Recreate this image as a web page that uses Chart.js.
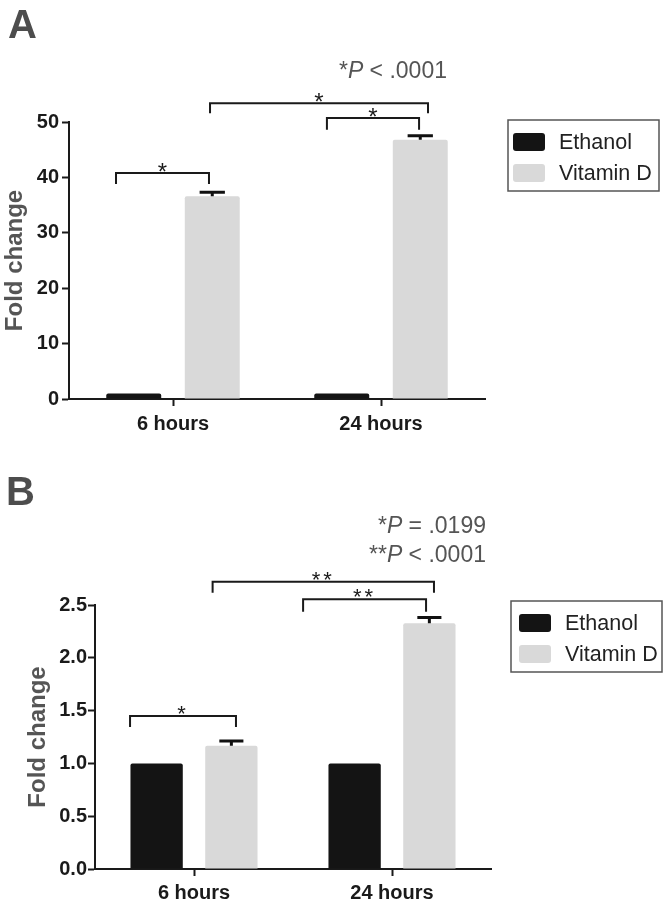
<!DOCTYPE html>
<html>
<head>
<meta charset="utf-8">
<script src="https://cdn.jsdelivr.net/npm/chart.js@4"></script>
<style>
  body { margin: 0; background: #fff; font-family: 'Liberation Sans', Arial, sans-serif; }
  #page { position: relative; width: 663px; height: 900px; overflow: hidden; }
  .letter { position: absolute; font-size: 40px; font-weight: bold; line-height: 40px; color: #4d4d4d; }
  .pval { position: absolute; font-size: 23px; line-height: 29px; color: #555; text-align: right; white-space: nowrap; }
  .pval sup { font-size: 0.8em; vertical-align: 0; }
  .box { position: absolute; left: 0; width: 663px; }
</style>
</head>
<body>
<div id="page">
  <div class="box" style="top:0;height:448px"><canvas id="chartA" width="663" height="448"></canvas></div>
  <div class="box" style="top:448px;height:452px"><canvas id="chartB" width="663" height="452"></canvas></div>
  <div class="letter" style="left:8px;top:4px">A</div>
  <div class="letter" style="left:6px;top:471px">B</div>
  <div class="pval" style="right:216px;top:56px">*<i>P</i> &lt; .0001</div>
  <div class="pval" style="right:177px;top:511px">*<i>P</i> = .0199<br>**<i>P</i> &lt; .0001</div>
</div>
<script>
// Categories and series
const categories = ['6 hours', '24 hours'];
const seriesNames = ['Ethanol', 'Vitamin D'];
const seriesColors = ['#141414', '#d9d9d9'];

// Panel A values (fold change)
const ethanolA = [1, 1];
const vitaminDA = [36.6, 46.8];
const vitaminDErrA = [0.7, 0.7];
const yTicksA = [0, 10, 20, 30, 40, 50];

// Panel B values (fold change)
const ethanolB = [1, 1];
const vitaminDB = [1.167, 2.326];
const vitaminDErrB = [0.045, 0.055];
const yTicksB = [0, 0.5, 1.0, 1.5, 2.0, 2.5];

// Significance brackets: from/to in category units, y/leg in data units
const bracketsA = [
    { from: -0.274, to: 0.173, y: 40.8, leg: 38.8, label: '*' },
    { from: 0.178, to: 1.226, y: 53.4, leg: 51.6, label: '*' },
    { from: 0.74, to: 1.183, y: 50.7, leg: 48.6, label: '*' }
];
const bracketsB = [
    { from: -0.323, to: 0.212, y: 1.449, leg: 1.345, label: '*' },
    { from: 0.094, to: 1.212, y: 2.72, leg: 2.616, label: '**' },
    { from: 0.551, to: 1.172, y: 2.554, leg: 2.437, label: '**' }
];

const FONT = "'Liberation Sans', Arial, sans-serif";
const INK = '#1a1a1a';

// Error bars (upper only) drawn on top of bars
const errorBarPlugin = {
    id: 'errorBars',
    afterDatasetsDraw(chart) {
        const ctx = chart.ctx;
        const ys = chart.scales.y;
        chart.data.datasets.forEach((ds, di) => {
            if (!ds.errors) return;
            const meta = chart.getDatasetMeta(di);
            meta.data.forEach((bar, i) => {
                const err = ds.errors[i];
                if (!err) return;
                const top = ys.getPixelForValue(ds.data[i] + err);
                const half = bar.width * 0.23;
                ctx.save();
                ctx.strokeStyle = '#111';
                ctx.lineWidth = 3;
                ctx.beginPath();
                ctx.moveTo(bar.x, bar.y);
                ctx.lineTo(bar.x, top);
                ctx.moveTo(bar.x - half, top);
                ctx.lineTo(bar.x + half, top);
                ctx.stroke();
                ctx.restore();
            });
        });
    }
};

// Brackets with stars
const bracketPlugin = {
    id: 'brackets',
    afterDraw(chart, args, opts) {
        const ctx = chart.ctx;
        const xs = chart.scales.x;
        const ys = chart.scales.y;
        (opts.items || []).forEach(b => {
            const x0 = xs.getPixelForValue(b.from);
            const x1 = xs.getPixelForValue(b.to);
            const yt = ys.getPixelForValue(b.y);
            const yl = ys.getPixelForValue(b.leg);
            ctx.save();
            ctx.strokeStyle = INK;
            ctx.lineWidth = 2;
            ctx.beginPath();
            ctx.moveTo(x0, yl);
            ctx.lineTo(x0, yt);
            ctx.lineTo(x1, yt);
            ctx.lineTo(x1, yl);
            ctx.stroke();
            const size = opts.starSize;
            ctx.font = size + 'px ' + FONT;
            ctx.fillStyle = INK;
            ctx.textAlign = 'center';
            ctx.textBaseline = 'alphabetic';
            if ('letterSpacing' in ctx) ctx.letterSpacing = opts.starGap + 'px';
            ctx.fillText(b.label, (x0 + x1) / 2, yt - opts.starLift + 0.585 * size);
            ctx.restore();
        });
    }
};

// Boxed legend to the right of the plot
const boxLegendPlugin = {
    id: 'boxLegend',
    afterDraw(chart, args, opts) {
        const ctx = chart.ctx;
        const area = chart.chartArea;
        const left = area.right + opts.dx;
        const top = area.top + opts.dy;
        ctx.save();
        ctx.strokeStyle = '#555';
        ctx.lineWidth = 1.5;
        ctx.strokeRect(left, top, 151, 71);
        chart.data.datasets.forEach((ds, i) => {
            const sy = top + 13 + i * 31;
            ctx.fillStyle = ds.backgroundColor;
            ctx.beginPath();
            ctx.roundRect(left + opts.swatchX, sy, 32, 18, 3);
            ctx.fill();
            ctx.fillStyle = '#222';
            ctx.font = '21.5px ' + FONT;
            ctx.textAlign = 'left';
            ctx.textBaseline = 'middle';
            ctx.fillText(ds.label, left + opts.swatchX + 46, sy + 10);
        });
        ctx.restore();
    }
};

function makeChart(id, ethanol, vitaminD, vitaminDErr, yTicks, cfg) {
    return new Chart(document.getElementById(id), {
        type: 'bar',
        data: {
            labels: categories,
            datasets: [
                { label: seriesNames[0], data: ethanol, backgroundColor: seriesColors[0] },
                { label: seriesNames[1], data: vitaminD, backgroundColor: seriesColors[1], errors: vitaminDErr }
            ]
        },
        options: {
            responsive: false,
            animation: false,
            categoryPercentage: 0.755,
            barPercentage: 0.70,
            borderRadius: 2,
            layout: { padding: cfg.padding },
            plugins: {
                legend: { display: false },
                tooltip: { enabled: false },
                brackets: { items: cfg.brackets, starSize: cfg.starSize, starLift: cfg.starLift, starGap: cfg.starGap },
                boxLegend: { dx: cfg.legendDx, dy: cfg.legendDy, swatchX: cfg.swatchX }
            },
            scales: {
                x: {
                    offset: true,
                    grid: { offset: false, drawOnChartArea: false, drawTicks: true, tickLength: 7, tickWidth: 2, tickColor: INK },
                    border: { display: true, color: INK, width: 2 },
                    ticks: { color: INK, padding: cfg.xPad, font: { family: FONT, size: 20, weight: 'bold' } },
                    afterFit(s) { s.height = cfg.xHeight; }
                },
                y: {
                    min: yTicks[0],
                    max: yTicks[yTicks.length - 1],
                    afterBuildTicks(s) { s.ticks = yTicks.map(v => ({ value: v })); },
                    grid: { drawOnChartArea: false, drawTicks: true, tickLength: 7, tickWidth: 2, tickColor: INK },
                    border: { display: true, color: INK, width: 2 },
                    ticks: {
                        color: INK,
                        padding: cfg.yPad,
                        font: { family: FONT, size: 20, weight: 'bold' },
                        callback: v => cfg.decimals ? v.toFixed(cfg.decimals) : String(v)
                    },
                    title: {
                        display: true,
                        text: 'Fold change',
                        color: '#555',
                        padding: { top: cfg.titlePad, bottom: 0 },
                        font: { family: FONT, size: 24, weight: 'bold' }
                    },
                    afterFit(s) { s.width = cfg.yWidth; }
                }
            }
        },
        plugins: [errorBarPlugin, bracketPlugin, boxLegendPlugin]
    });
}

makeChart('chartA', ethanolA, vitaminDA, vitaminDErrA, yTicksA, {
    padding: { left: 0, top: 122, right: 178, bottom: 9 },
    yWidth: 69, xHeight: 40, yPad: 3, xPad: 6, titlePad: 1, decimals: 0,
    brackets: bracketsA, starSize: 24, starLift: 7, starGap: 0,
    legendDx: 23, legendDy: -2, swatchX: 5
});

makeChart('chartB', ethanolB, vitaminDB, vitaminDErrB, yTicksB, {
    padding: { left: 0, top: 157, right: 172, bottom: 1 },
    yWidth: 95, xHeight: 30, yPad: 1, xPad: 5, titlePad: 24, decimals: 1,
    brackets: bracketsB, starSize: 22, starLift: 8, starGap: 3,
    legendDx: 20, legendDy: -4, swatchX: 8
});
</script>
</body>
</html>
